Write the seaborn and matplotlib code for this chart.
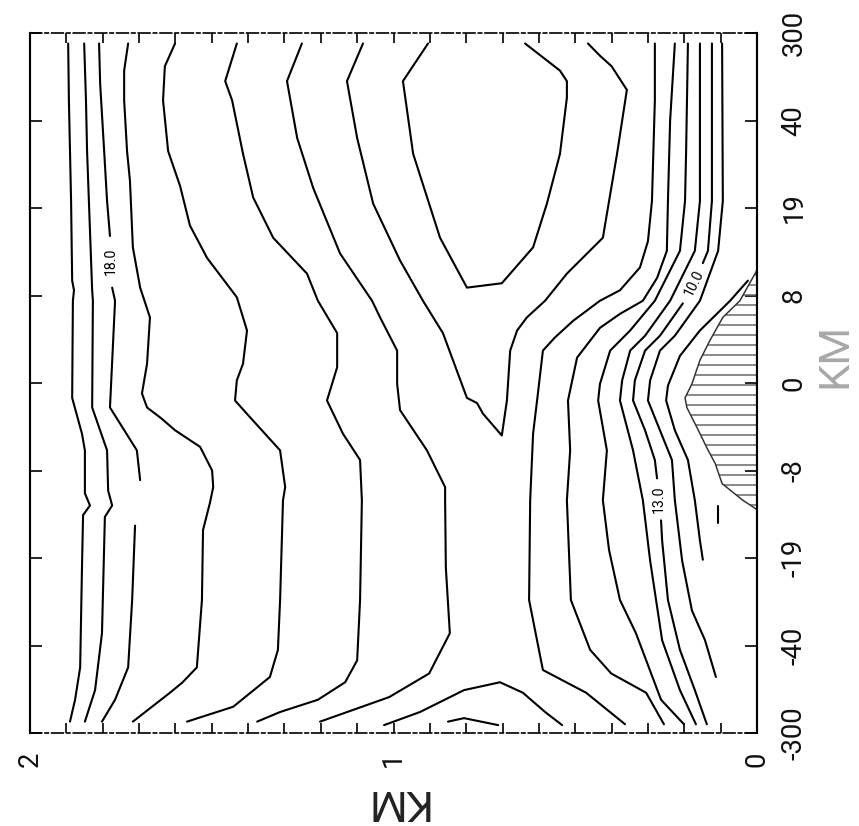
import matplotlib
matplotlib.use("Agg")
import matplotlib.pyplot as plt
import matplotlib.ticker as mticker
import pandas as pd
import seaborn as sns

# Station axis: equally spaced stations, labelled by distance (km)
station_labels = ["-300", "-40", "-19", "-8", "0", "8", "19", "40", "300"]
depth_ticks = [0, 1, 2]
depth_labels = ["0", "1", "2"]

# Isolines: depth (km) along each station position
l1_km = [1.895, 1.893, 1.887, 1.884, 1.879, 1.882, 1.884, 1.857, 1.849, 1.849, 1.835, 1.854, 1.857, 1.862, 1.876, 1.890]
l1_st = [7.88, 7.23, 6.08, 5.17, 5.06, 4.94, 3.83, 3.42, 3.23, 2.74, 2.60, 2.49, 1.89, 0.75, 0.38, 0.13]

l2_km = [1.851, 1.846, 1.843, 1.835, 1.829, 1.827, 1.829, 1.788, 1.785, 1.774, 1.794, 1.802, 1.821, 1.849]
l2_st = [7.88, 7.23, 6.65, 5.74, 5.06, 4.94, 3.72, 3.23, 2.77, 2.60, 2.47, 1.14, 0.49, 0.13]

l3a_km = [1.810, 1.807, 1.796, 1.788, 1.780]
l3a_st = [7.88, 7.42, 6.65, 6.08, 5.68]
l3b_km = [1.774, 1.766, 1.780, 1.706, 1.697]
l3b_st = [5.09, 4.94, 3.72, 3.23, 2.89]
l3c_km = [1.711, 1.719, 1.730, 1.766, 1.802]
l3c_st = [2.37, 1.52, 0.75, 0.38, 0.13]

l4_km = [1.730, 1.741, 1.741, 1.733, 1.725, 1.717, 1.697, 1.670, 1.678, 1.692, 1.678, 1.640, 1.601, 1.532, 1.499, 1.496, 1.505, 1.524, 1.527, 1.541, 1.580, 1.615, 1.717]
l4_st = [7.88, 7.57, 7.23, 6.65, 6.31, 5.55, 5.09, 4.75, 4.22, 3.88, 3.72, 3.60, 3.46, 3.27, 3.00, 2.81, 2.63, 2.32, 1.52, 0.75, 0.58, 0.46, 0.13]

l5_km = [1.601, 1.629, 1.634, 1.620, 1.587, 1.560, 1.513, 1.431, 1.403, 1.414, 1.431, 1.436, 1.395, 1.312, 1.298, 1.304, 1.312, 1.318, 1.340, 1.441, 1.568]
l5_st = [7.88, 7.62, 7.23, 6.65, 6.25, 5.80, 5.43, 4.98, 4.60, 4.22, 4.03, 3.80, 3.61, 3.23, 2.81, 2.66, 1.52, 0.95, 0.64, 0.30, 0.13]

l6_km = [1.431, 1.463, 1.444, 1.414, 1.386, 1.331, 1.238, 1.208, 1.155, 1.155, 1.183, 1.139, 1.092, 1.087, 1.092, 1.100, 1.133, 1.208, 1.312, 1.375]
l6_st = [7.88, 7.45, 7.23, 6.62, 6.12, 5.66, 5.25, 4.94, 4.57, 4.18, 3.80, 3.42, 3.12, 2.66, 1.52, 0.83, 0.58, 0.38, 0.24, 0.13]

l7_km = [1.252, 1.293, 1.265, 1.221, 1.147, 1.059, 1.037, 0.990, 0.990, 0.982, 0.908, 0.858, 0.858, 0.856, 0.845, 0.902, 1.012, 1.202]
l7_st = [7.88, 7.45, 6.80, 6.23, 5.48, 4.94, 4.75, 4.37, 3.99, 3.69, 3.23, 2.81, 2.66, 1.89, 1.14, 0.68, 0.41, 0.13]

fork_km = [1.084, 1.128, 1.100, 1.056, 0.982, 0.919, 0.864, 0.798, 0.770, 0.754, 0.702, 0.688, 0.679, 0.660, 0.633, 0.583, 0.523, 0.424, 0.385, 0.358, 0.400, 0.432, 0.465]
fork_st = [7.88, 7.45, 6.80, 6.05, 5.40, 4.94, 4.57, 3.83, 3.77, 3.65, 3.40, 3.80, 4.37, 4.60, 4.75, 4.94, 5.25, 5.66, 6.62, 7.35, 7.62, 7.74, 7.88]

core_km = [0.905, 0.974, 0.946, 0.872, 0.798, 0.702, 0.616, 0.578, 0.542, 0.523, 0.523, 0.542, 0.638]
core_st = [7.88, 7.45, 6.62, 5.66, 5.09, 5.14, 5.55, 6.05, 6.62, 7.26, 7.45, 7.57, 7.88]

hump1_km = [1.026, 0.927, 0.806, 0.707, 0.644, 0.583, 0.536]
hump1_st = [0.09, 0.24, 0.49, 0.58, 0.46, 0.24, 0.09]
hump2_km = [0.850, 0.806, 0.712]
hump2_st = [0.13, 0.17, 0.09]

r0_km = [0.281, 0.281, 0.289, 0.300, 0.322, 0.377, 0.432, 0.506, 0.556, 0.589, 0.605, 0.616, 0.624, 0.627, 0.589, 0.470, 0.363]
r0_st = [7.88, 7.23, 6.08, 5.62, 5.32, 5.06, 4.94, 4.71, 4.52, 4.37, 3.80, 3.42, 2.66, 1.52, 0.72, 0.46, 0.10]

r1_km = [0.226, 0.239, 0.245, 0.248, 0.275, 0.314, 0.377, 0.432, 0.495, 0.520, 0.514, 0.523, 0.512, 0.459, 0.401, 0.305, 0.256]
r1_st = [7.88, 7.00, 6.08, 5.51, 5.20, 4.94, 4.79, 4.63, 4.29, 3.80, 3.23, 2.66, 1.52, 0.95, 0.68, 0.46, 0.10]

r2_km = [0.190, 0.195, 0.198, 0.212, 0.281, 0.349, 0.404, 0.432, 0.437, 0.413, 0.424, 0.407, 0.377, 0.333, 0.264, 0.201]
r2_st = [7.88, 6.65, 6.08, 5.51, 4.94, 4.60, 4.37, 3.99, 3.80, 3.23, 2.66, 2.09, 1.52, 1.14, 0.38, 0.10]

r3_km = [0.157, 0.157, 0.171, 0.239, 0.308, 0.349, 0.371, 0.377, 0.341, 0.314, 0.294, 0.261, 0.212, 0.168]
r3_st = [7.88, 6.08, 5.51, 4.94, 4.54, 4.37, 4.03, 3.80, 3.23, 2.66, 1.97, 1.06, 0.49, 0.10]

r4a_km = [0.124, 0.124, 0.135, 0.149]
r4a_st = [7.88, 6.08, 5.51, 5.37]
r4b_km = [0.204, 0.267, 0.308, 0.336, 0.341, 0.308, 0.281, 0.275]
r4b_st = [4.91, 4.54, 4.37, 4.03, 3.80, 3.46, 3.12, 2.91]
r4c_km = [0.264, 0.261, 0.245, 0.212, 0.171, 0.138]
r4c_st = [2.43, 2.20, 1.52, 0.95, 0.49, 0.10]

r5_km = [0.096, 0.094, 0.107, 0.157, 0.226, 0.267, 0.294, 0.300, 0.267, 0.234, 0.226, 0.206, 0.179, 0.143, 0.113]
r5_st = [7.88, 6.08, 5.51, 4.94, 4.54, 4.37, 4.03, 3.80, 3.46, 3.12, 2.66, 1.97, 1.40, 1.06, 0.64]

r6_km = [0.025, 0.074, 0.157, 0.212, 0.245, 0.250, 0.226, 0.190, 0.171, 0.157, 0.149]
r6_st = [5.17, 4.94, 4.60, 4.31, 3.97, 3.80, 3.46, 3.12, 2.66, 2.20, 1.98]

stub_km = [0.107, 0.107]
stub_st = [2.60, 2.40]

# Ridge profile (hatched)
ridge_km = [0.000, 0.047, 0.094, 0.129, 0.157, 0.179, 0.198, 0.193, 0.165, 0.138, 0.115, 0.096, 0.039, 0.006, 0.000]
ridge_st = [5.29, 4.94, 4.75, 4.49, 4.26, 3.99, 3.83, 3.72, 3.49, 3.26, 3.08, 2.85, 2.66, 2.57, 2.55]

# Contour labels: text, depth, station, rotation
label_text = ["18.0", "13.0", "10.0"]
label_km = [1.777, 0.270, 0.173]
label_st = [5.39, 2.67, 5.14]
label_rot = [90, 90, 64]

segments = {
    "l1": (l1_km, l1_st), "l2": (l2_km, l2_st),
    "l3a": (l3a_km, l3a_st), "l3b": (l3b_km, l3b_st), "l3c": (l3c_km, l3c_st),
    "l4": (l4_km, l4_st), "l5": (l5_km, l5_st), "l6": (l6_km, l6_st),
    "l7": (l7_km, l7_st), "fork": (fork_km, fork_st), "core": (core_km, core_st),
    "hump1": (hump1_km, hump1_st), "hump2": (hump2_km, hump2_st),
    "r0": (r0_km, r0_st), "r1": (r1_km, r1_st), "r2": (r2_km, r2_st),
    "r3": (r3_km, r3_st), "r4a": (r4a_km, r4a_st), "r4b": (r4b_km, r4b_st),
    "r4c": (r4c_km, r4c_st), "r5": (r5_km, r5_st), "r6": (r6_km, r6_st),
    "stub": (stub_km, stub_st),
}
rows = []
for name, (km, st) in segments.items():
    for i, (d, s) in enumerate(zip(km, st)):
        rows.append({"line": name, "order": i, "depth": d, "station": s})
iso = pd.DataFrame(rows)

sns.set_theme(style="white")
plt.rcParams["font.family"] = ["Roboto", "DejaVu Sans"]
plt.rcParams["hatch.linewidth"] = 0.9

DPI = 120
fig = plt.figure(figsize=(859 / DPI, 826 / DPI), dpi=DPI)
ax = fig.add_axes([30 / 859, 93 / 826, 727 / 859, 700 / 826])

# Hatched ridge
ax.fill_betweenx(ridge_st, 0, ridge_km, facecolor="none", edgecolor="#666666",
                 hatch="--", linewidth=0)
ax.plot(ridge_km, ridge_st, color="#333333", lw=0.9)

sns.lineplot(data=iso, x="depth", y="station", units="line", estimator=None,
             sort=False, color="black", lw=1.25, legend=False, ax=ax)

for t, d, s, r in zip(label_text, label_km, label_st, label_rot):
    ax.text(d, s, t, rotation=r, ha="center", va="center", fontsize=8.5,
            color="black")

ax.set_xlim(2, 0)
ax.set_ylim(0, 8)
ax.set_xlabel("")
ax.set_ylabel("")

ax.set_yticks(range(len(station_labels)))
ax.set_yticklabels(station_labels, rotation=90, va="center", fontsize=16.5)
ax.yaxis.set_ticks_position("both")
ax.tick_params(axis="y", which="both", direction="in", length=7, width=1,
               left=True, right=True, labelleft=False, labelright=True, pad=14,
               colors="black", labelcolor="#111111")

ax.set_xticks(depth_ticks)
ax.set_xticklabels(depth_labels, rotation=90, fontsize=16.5)
ax.xaxis.set_minor_locator(mticker.MultipleLocator(0.1))
ax.tick_params(axis="x", which="both", direction="in", length=6, width=1,
               top=True, bottom=True, labeltop=False, labelbottom=True, pad=11,
               colors="black", labelcolor="#111111")

for side in ["left", "right"]:
    ax.spines[side].set_color("black")
    ax.spines[side].set_linewidth(1.3)
for side in ["top", "bottom"]:
    ax.spines[side].set_color("black")
    ax.spines[side].set_linewidth(1.0)
    ax.spines[side].set_linestyle((0, (7, 2, 2, 2)))
ax.grid(False)

fig.text(395 / 859, 1 - 801 / 826, "KM", rotation=180, ha="center", va="center",
         fontsize=26, color="#222222")
fig.text(835 / 859, 1 - 355 / 826, "KM", rotation=90, ha="center", va="center",
         fontsize=26, color="#a8a8a8")

fig.savefig("out.png", dpi=DPI, facecolor="white")
